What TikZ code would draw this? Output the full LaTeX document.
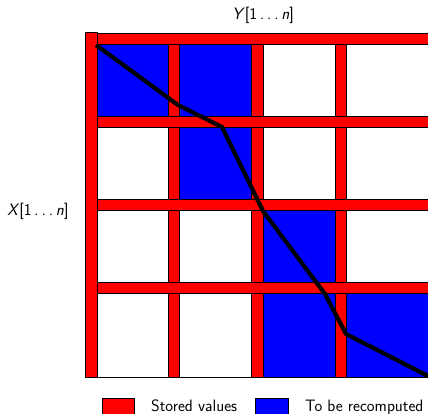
\documentclass[tikz,border=0pt]{standalone}
\usepackage{tikz}
\definecolor{barred}{RGB}{255,0,0}
\definecolor{cellblue}{RGB}{0,0,255}
\tikzset{
  bar/.style={fill=barred, draw=black, line width=0.8pt},
  bluecell/.style={fill=cellblue, draw=black, line width=0.8pt},
  whitecell/.style={fill=white, draw=black, line width=0.8pt},
  pathline/.style={draw=black, line width=4.2pt, line join=round},
  lbl/.style={font=\fontsize{16.5}{19}\selectfont\sffamily, inner sep=0pt}
}
\newcommand{\rangelabel}[1]{\textit{#1}[1\,.\kern0.18em.\kern0.18em.\,\textit{n}]}
\begin{document}
\begin{tikzpicture}[x=1pt,y=-1pt]
\useasboundingbox (0,0) rectangle (428,413);
\clip (0,0) rectangle (428,413);
% cells of the table (column by column, row by row)
\foreach \xa/\xb [count=\i] in {91/174,174/257.5,257.5/341,341/450}{
  \foreach \ya/\yb [count=\j] in {39/121.5,121.5/204.5,204.5/288,288/377}{
    \pgfmathtruncatemacro{\blue}{(\i==1 && \j==1) || (\i==2 && \j<3) || (\i==3 && \j>2) || (\i==4 && \j==4)}
    \ifnum\blue=1
      \path[bluecell] (\xa,\ya) rectangle (\xb,\yb);
    \else
      \path[whitecell] (\xa,\ya) rectangle (\xb,\yb);
    \fi
  }
}
% inner vertical bars
\foreach \x in {174,257.5,341}
  \path[bar] (\x-5.8,44) rectangle (\x+5.8,377);
% horizontal bars
\foreach \y in {121.5,204.5,288}
  \path[bar] (97,\y-5.6) rectangle (450,\y+5.6);
\path[bar] (97,33.5) rectangle (450,44);
% left bar
\path[bar] (85,32.5) rectangle (97,377);
% traceback path
\path[pathline] (96,45) -- (178,105) -- (222,127) -- (263,211) -- (325,294) -- (346,334) -- (430,377);
% axis labels
\node[lbl] (ylabel) at (263,15) {\rangelabel{Y}};
\node[lbl] (xlabel) at (38,211) {\rangelabel{X}};
% legend
\path[bar] (102,398) rectangle (134,420);
\node[lbl, anchor=base west] (stored) at (151,411) {Stored values};
\path[bluecell] (255,398) rectangle (288,420);
\node[lbl, anchor=base west] (recomp) at (305,411) {To be recomputed};
\end{tikzpicture}
\end{document}
